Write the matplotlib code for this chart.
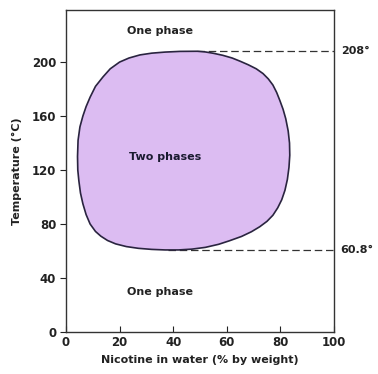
import matplotlib
matplotlib.use("Agg")
import matplotlib.pyplot as plt

# Boundary of the two-phase region (nicotine %, temperature °C), traced clockwise
curve_x = [4.3, 4.5, 5.2, 6.3, 7.5, 9.0, 11.0, 13.8, 16.5, 20.0, 23.5, 27.6, 32.0, 37.0, 42.5,
           49.0, 52.0, 55.0, 58.5, 62.0, 65.0, 68.0, 71.0, 73.5, 75.5, 77.2, 78.6, 79.8, 81.0,
           82.0, 82.9, 83.4, 83.5, 83.2, 82.6, 81.7, 80.5, 79.0, 77.2, 75.0, 72.3, 69.2, 65.5,
           61.0, 57.0, 52.0, 47.0, 42.0, 37.0, 32.0, 27.0, 22.5, 18.5, 15.5, 13.0, 11.0, 9.0,
           7.5, 6.3, 5.4, 4.8, 4.4]
curve_y = [130.0, 142.0, 152.0, 160.0, 167.0, 174.0, 182.0, 189.0, 195.0, 200.0, 203.0, 205.3, 206.6, 207.4, 207.9,
           208.0, 207.5, 206.5, 205.0, 203.0, 200.6, 198.0, 195.0, 191.5, 187.5, 183.0, 177.5, 171.5, 165.0,
           158.0, 149.0, 140.0, 131.0, 122.0, 113.0, 105.0, 98.0, 92.0, 86.5, 82.0, 78.0, 74.3, 70.8,
           67.6, 65.0, 62.7, 61.4, 60.8, 60.8, 61.2, 62.0, 63.3, 65.3, 67.8, 71.0, 74.5, 80.0,
           87.0, 95.0, 103.0, 112.0, 120.0]

upper_crit = 208
lower_crit = 60.8
x_ticks = [0, 20, 40, 60, 80, 100]
y_ticks = [0, 40, 80, 120, 160, 200]

fig = plt.figure(figsize=(3.78, 3.74), dpi=100)
ax = fig.add_axes([0.1746, 0.1123, 0.709, 0.8607])

ax.fill(curve_x, curve_y, facecolor="#dcbcf2", edgecolor="#2a2440", linewidth=1.2,
        closed=True, joinstyle="round", zorder=2)

ax.plot([49, 100], [upper_crit, upper_crit], color="#333333", linestyle=(0, (6, 3)), linewidth=0.9, clip_on=False, zorder=1)
ax.plot([38, 100], [lower_crit, lower_crit], color="#333333", linestyle=(0, (6, 3)), linewidth=0.9, clip_on=False, zorder=1)

ax.text(102.5, upper_crit, "208°", ha="left", va="center", fontsize=8, fontweight="bold", color="#222222")
ax.text(102.5, lower_crit, "60.8°", ha="left", va="center", fontsize=8, fontweight="bold", color="#222222")

ax.text(35, 223, "One phase", ha="center", va="center", fontsize=8, fontweight="bold", color="#222222")
ax.text(37, 130, "Two phases", ha="center", va="center", fontsize=8, fontweight="bold", color="#1a1a30", zorder=3)
ax.text(35, 30, "One phase", ha="center", va="center", fontsize=8, fontweight="bold", color="#222222")

ax.set_xlim(0, 100)
ax.set_ylim(0, 238.5)
ax.set_xticks(x_ticks)
ax.set_yticks(y_ticks)
ax.tick_params(axis="x", direction="in", length=4, labelsize=8.5, pad=3, colors="#222222")
ax.tick_params(axis="y", direction="out", length=4, labelsize=8.5, pad=3, colors="#222222")
for lab in ax.get_xticklabels() + ax.get_yticklabels():
    lab.set_fontweight("bold")
for sp in ax.spines.values():
    sp.set_linewidth(1.0)
    sp.set_color("#333333")

ax.set_xlabel("Nicotine in water (% by weight)", fontsize=8, fontweight="bold", color="#222222", labelpad=4)
ax.set_ylabel("Temperature (°C)", fontsize=8, fontweight="bold", color="#222222", labelpad=7)

fig.savefig("out.png", dpi=100)
